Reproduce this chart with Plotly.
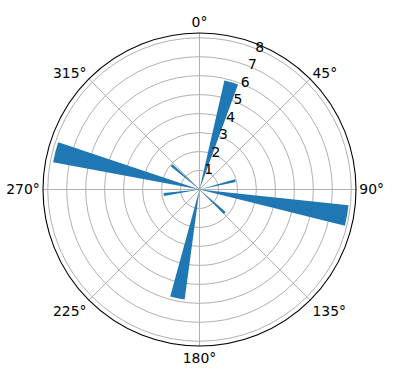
import plotly.graph_objects as go

# Bar data (direction in degrees, clockwise from north)
bar_theta = [16.5, 76, 100, 133, 191.5, 262, 284.5, 311]
bar_r = [5.9, 1.95, 7.9, 1.82, 5.85, 1.9, 7.85, 1.95]
bar_width = [7.3, 4.5, 7.9, 4.5, 7.6, 4.5, 7.9, 4.5]

radial_ticks = [1, 2, 3, 4, 5, 6, 7, 8]
angular_ticks = [0, 45, 90, 135, 180, 225, 270, 315]
angular_labels = [f"{a}°" for a in angular_ticks]

r_max = 8.25
label_theta = 22.5
label_shift = -0.33

font = dict(family="DejaVu Sans", size=13.9, color="black")

fig = go.Figure()
fig.add_trace(go.Barpolar(
    theta=bar_theta, r=bar_r, width=bar_width,
    marker=dict(color="#1f77b4", line=dict(width=0)),
    opacity=1, showlegend=False, hoverinfo="skip",
))
fig.add_trace(go.Scatterpolar(
    r=[v + label_shift for v in radial_ticks],
    theta=[label_theta] * len(radial_ticks),
    mode="text", text=[str(v) for v in radial_ticks],
    textposition="top right", textfont=font,
    cliponaxis=False, showlegend=False, hoverinfo="skip",
))

fig.update_layout(
    width=396, height=380,
    margin=dict(l=43, r=40, t=33, b=34),
    paper_bgcolor="white",
    font=font,
    showlegend=False,
    polar=dict(
        bgcolor="white",
        bargap=0,
        angularaxis=dict(
            rotation=90, direction="clockwise",
            tickmode="array", tickvals=angular_ticks, ticktext=angular_labels,
            showline=True, linecolor="black", linewidth=1.1,
            showgrid=True, gridcolor="#b0b0b0", gridwidth=1.1,
            ticks="", tickfont=font, layer="above traces",
        ),
        radialaxis=dict(
            range=[0, r_max], tickmode="array", tickvals=radial_ticks,
            showticklabels=False, ticks="", showline=False,
            showgrid=True, gridcolor="#b0b0b0", gridwidth=1.1,
            layer="above traces",
        ),
    ),
)

fig.write_html("out.html")
